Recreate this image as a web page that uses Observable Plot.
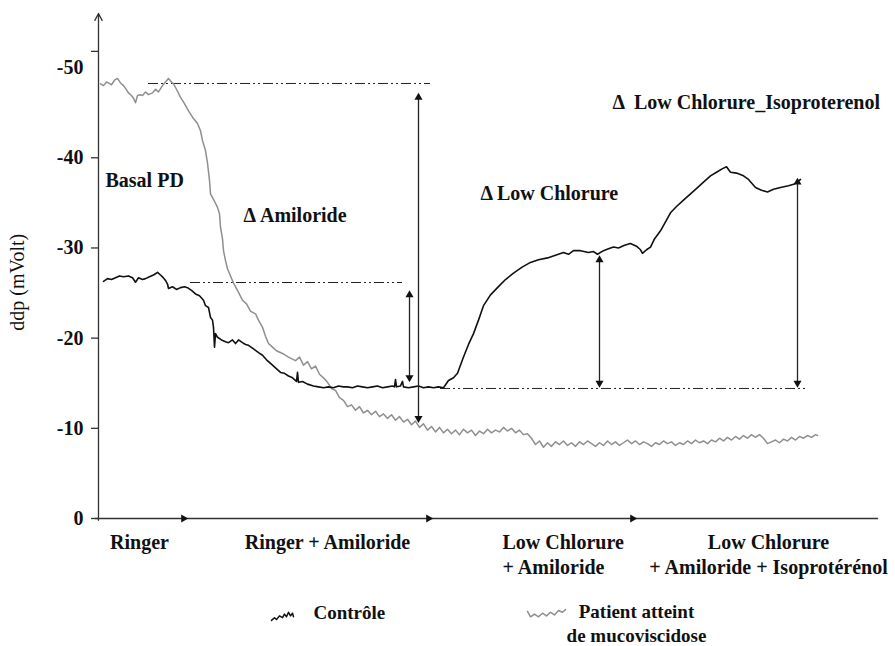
<!DOCTYPE html>
<html>
<head>
<meta charset="utf-8">
<script src="https://cdn.jsdelivr.net/npm/d3@7"></script>
<script src="https://cdn.jsdelivr.net/npm/@observablehq/plot@0.6"></script>
<style>
  html, body { margin: 0; padding: 0; background: #fff; }
  #chart svg { display: block; }
  #chart svg text { font-family: "Liberation Serif", "Times New Roman", serif; }
</style>
</head>
<body>
<div id="chart"></div>
<script>
// ---- Data (time in arbitrary units, ddp in mV) ----
const controle = [
  [5,-26.3],[9,-26.6],[13,-26.5],[17,-26.7],[21,-26.9],[25,-26.8],[30,-26.9],[34,-26.7],[37,-26.2],[40,-26.7],
  [44,-26.5],[47,-26.6],[51,-26.8],[55,-27.0],[59,-27.3],[62,-27.0],[64,-26.8],[67,-26.4],[69,-26.0],[70,-25.5],
  [74,-25.7],[78,-25.4],[82,-25.6],[86,-25.7],[89,-25.6],[93,-25.3],[97,-24.9],[101,-24.7],[105,-24.2],[107,-23.6],
  [110,-23.4],[112,-22.3],[114,-22.0],[115,-21.2],[116,-19.0],[117,-20.5],[119,-20.1],[123,-19.8],[127,-19.6],[130,-19.5],
  [134,-19.8],[137,-19.4],[140,-19.8],[144,-19.5],[147,-19.3],[150,-19.2],[155,-18.8],[160,-18.4],[164,-18.1],[168,-17.6],
  [172,-17.2],[177,-16.7],[182,-16.2],[186,-16.1],[190,-15.8],[194,-15.6],[198,-15.2],[199,-16.2],[200,-15.1],[204,-15.2],
  [209,-14.9],[215,-14.7],[220,-14.6],[225,-14.5],[230,-14.6],[235,-14.5],[240,-14.7],[245,-14.6],[249,-14.6],[254,-14.5],
  [259,-14.7],[264,-14.6],[269,-14.5],[274,-14.6],[279,-14.7],[284,-14.5],[289,-14.6],[294,-14.7],[296,-14.6],[297,-15.4],
  [298,-14.6],[302,-14.7],[304,-15.2],[305,-14.6],[310,-14.5],[315,-14.6],[320,-14.7],[325,-14.5],[330,-14.6],[335,-14.5],
  [340,-14.6],[345,-14.5],[350,-15.3],[355,-15.6],[359,-16.1],[365,-17.9],[370,-19.3],[375,-20.5],[380,-22.0],[385,-23.6],
  [392,-24.8],[399,-25.6],[407,-26.5],[415,-27.2],[424,-27.9],[432,-28.4],[440,-28.7],[449,-28.9],[457,-29.2],[465,-29.5],
  [470,-29.3],[475,-29.7],[482,-29.7],[490,-29.5],[495,-29.6],[499,-29.3],[505,-29.7],[510,-29.9],[515,-30.1],[520,-30.0],
  [526,-30.3],[532,-30.5],[538,-30.2],[542,-29.8],[544,-29.4],[548,-29.8],[552,-30.1],[556,-31.0],[562,-31.9],[567,-32.9],
  [572,-33.9],[578,-34.6],[585,-35.3],[592,-36.0],[599,-36.7],[605,-37.3],[612,-38.0],[618,-38.4],[624,-38.8],[628,-39.0],
  [632,-38.4],[638,-38.3],[645,-38.0],[650,-37.6],[657,-36.7],[663,-36.4],[669,-36.2],[675,-36.5],[682,-36.7],[690,-36.9],
  [696,-37.1],[699,-37.3],[702,-37.6]
];
const patient = [
  [2,-48.2],[5,-48.0],[8,-48.4],[10,-48.3],[13,-48.1],[16,-48.6],[19,-48.8],[22,-48.3],[25,-48.0],[27,-47.7],
  [30,-47.2],[33,-46.9],[35,-46.6],[37,-46.1],[39,-46.9],[42,-47.0],[44,-46.9],[47,-47.3],[50,-47.0],[54,-47.2],
  [57,-47.6],[60,-47.3],[64,-48.0],[67,-48.4],[70,-48.8],[73,-48.4],[75,-48.2],[78,-47.6],[82,-46.7],[86,-46.0],
  [90,-45.2],[94,-44.5],[99,-43.8],[102,-43.0],[104,-41.9],[107,-40.8],[109,-39.4],[111,-37.5],[112,-36.0],[115,-35.4],
  [119,-34.5],[121,-33.8],[122,-32.3],[124,-31.0],[125,-29.7],[127,-28.6],[129,-27.7],[132,-26.9],[135,-26.1],[139,-25.3],
  [144,-24.2],[148,-23.8],[152,-23.0],[157,-22.7],[160,-22.0],[164,-21.2],[167,-20.2],[170,-19.4],[174,-19.0],[178,-18.6],
  [184,-18.3],[190,-17.9],
  [197,-17.5],[201,-17.9],[205,-17.0],[209,-17.4],[213,-16.6],[217,-16.9],[221,-16.0],[225,-15.6],[229,-15.1],[233,-14.4],
  [237,-14.2],[241,-13.4],[245,-13.1],[249,-12.4],[253,-12.6],[257,-12.0],[261,-12.4],[265,-11.7],[269,-12.0],[273,-11.5],
  [277,-11.9],[281,-11.3],[285,-11.6],[289,-11.1],[293,-11.5],[297,-10.9],[301,-11.3],[305,-10.7],[309,-11.0],[313,-10.4],
  [317,-10.8],[321,-10.1],[325,-10.5],[329,-9.8],[333,-10.2],[337,-9.6],[341,-10.1],[345,-9.5],[349,-9.9],[353,-9.4],
  [357,-9.8],[361,-9.3],[365,-9.9],[369,-9.5],[373,-9.8],[377,-9.2],[381,-9.7],[385,-9.4],[389,-9.9],[393,-9.5],
  [397,-9.8],[401,-9.6],[405,-10.1],[409,-9.7],[413,-10.0],[417,-9.5],[421,-9.8],[425,-9.3],[429,-9.4],[433,-8.9],
  [437,-8.2],[441,-8.6],[445,-7.9],[449,-8.4],[453,-8.0],[457,-8.5],[461,-8.2],[465,-8.6],[469,-8.1],[473,-8.4],
  [477,-8.0],[481,-8.5],[485,-8.2],[489,-8.6],[493,-8.3],[497,-8.0],[501,-8.4],[505,-8.1],[509,-8.6],[513,-8.2],
  [517,-8.5],[521,-8.1],[525,-8.4],[529,-8.7],[533,-8.3],[537,-8.6],[541,-8.2],[545,-8.5],[549,-8.3],[553,-8.0],
  [557,-8.4],[561,-8.2],[565,-8.6],[569,-8.3],[573,-8.5],[577,-8.1],[581,-8.4],[585,-8.2],[589,-8.6],[593,-8.3],
  [597,-8.7],[601,-8.4],[605,-8.6],[609,-8.3],[613,-8.7],[617,-8.5],[621,-8.9],[625,-8.6],[629,-9.0],[633,-8.7],
  [637,-9.1],[641,-8.8],[645,-9.2],[649,-8.9],[653,-9.3],[657,-9.0],[661,-9.3],[665,-8.9],[669,-8.3],[673,-8.5],
  [677,-8.7],[681,-8.4],[685,-8.8],[689,-8.6],[693,-9.0],[697,-8.7],[701,-9.1],[705,-8.9],[709,-9.2],[713,-9.0],
  [717,-9.3],[719,-9.2]
];

// Axis ticks
const yTickLabels = [0, -10, -20, -30, -40, -50];
const yTickMarks = [0, -10, -20, -30, -40, -51.8];
const xArrowHeads = [85, 330, 534];

// Reference (dash-dot) levels: [level, from, to]
const refLines = [
  [-48.24, 50, 332],
  [-26.17, 92, 304],
  [-14.42, 342, 710]
];
// Double arrows: [t, top, bottom]
const deltaArrows = [
  [320, -47.2, -10.6],
  [311, -25.3, -15.1],
  [501, -29.2, -14.5],
  [699, -37.8, -14.5]
];

// Annotations
const annotations = [
  {t: 7,   v: -37.5, text: "Basal PD"},
  {t: 145, v: -33.6, text: "Δ Amiloride"},
  {t: 382, v: -36.0, text: "Δ Low Chlorure"},
  {t: 514, v: -46.1, text: "Δ  Low Chlorure_Isoproterenol"}
];
// Phase labels under the axis
const phaseLabelsCentered = [
  {t: 41,  v: 2.44, text: "Ringer"},
  {t: 229, v: 2.44, text: "Ringer + Amiloride"},
  {t: 670, v: 3.83, text: "Low Chlorure\n+ Amiloride + Isoprotérénol"}
];
const phaseLabelsLeft = [
  {t: 404, v: 3.83, text: "Low Chlorure\n+ Amiloride"}
];
// Legend
const legendLeft = [{t: 215, v: 10.42, text: "Contrôle"}];
const legendCentered = [{t: 538, v: 11.5, text: "Patient atteint\nde mucoviscidose"}];
const legendSampleControle = [[173,11.3],[176,11.0],[178,11.2],[181,10.8],[184,11.0],[186,10.6],[188,10.9],[190,10.4],[192,10.8],[194,10.5],[195,10.9]];
const legendSamplePatient = [[429,10.3],[432,10.9],[436,10.6],[440,10.9],[444,10.5],[448,10.8],[452,10.4],[456,10.7],[460,10.2],[464,10.4],[467,10.1]];

// ---- Layout ----
const W = 895, H = 646;
const mTop = 13, mBottom = 128, mLeft = 98, mRight = 17;
const yDomain = [0, -56];
const pxPerMv = (H - mBottom - mTop) / 56;
const headR = 3;
const tipOffset = (2 * Math.sqrt((Math.PI * headR * headR) / (Math.sqrt(3) * 3))) / pxPerMv;

const font = '"Liberation Serif", "Times New Roman", serif';
const ink = "#111";
const grey = "#8f8f8f";
const fs = 20;

const upHeads = deltaArrows.map(([t, top]) => ({t, v: top + tipOffset}));
const downHeads = deltaArrows.map(([t, , bottom]) => ({t, v: bottom - tipOffset}));

const bold = {fontSize: fs, fontWeight: "bold", fill: ink, fontFamily: font};

const chart = Plot.plot({
  width: W,
  height: H,
  marginTop: mTop,
  marginBottom: mBottom,
  marginLeft: mLeft,
  marginRight: mRight,
  style: {fontFamily: font, background: "#fff", overflow: "visible"},
  x: {domain: [0, 780], axis: null},
  y: {domain: yDomain, axis: null},
  marks: [
    // reference dash-dot lines
    Plot.ruleY(refLines, {y: d => d[0], x1: d => d[1], x2: d => d[2], stroke: "#222", strokeWidth: 1, strokeDasharray: "10,3,2,3,2,3"}),
    // data
    Plot.line(patient, {x: d => d[0], y: d => d[1], stroke: grey, strokeWidth: 1.5}),
    Plot.line(controle, {x: d => d[0], y: d => d[1], stroke: ink, strokeWidth: 1.6}),
    // double arrows
    Plot.ruleX(deltaArrows, {x: d => d[0], y1: d => d[1] + tipOffset, y2: d => d[2] - tipOffset, stroke: "#222", strokeWidth: 1.3}),
    Plot.dot(upHeads, {x: "t", y: "v", symbol: "triangle", r: headR, fill: "#111", stroke: null}),
    Plot.dot(downHeads, {x: "t", y: "v", symbol: "triangle", rotate: 180, r: headR, fill: "#111", stroke: null}),
    // y axis line with open arrow
    Plot.arrow([0], {x1: 0, x2: 0, y1: 0.2, y2: -56, stroke: "#333", strokeWidth: 1.3, headLength: 9, headAngle: 55}),
    Plot.ruleY(yTickMarks, {y: d => d, x1: -7, x2: 0, stroke: "#333", strokeWidth: 1.3}),
    Plot.axisY(yTickLabels, {anchor: "left", tickSize: 0, tickPadding: 15, tickFormat: d => String(d), ...bold, label: null}),
    Plot.text(["ddp (mVolt)"], {x: -81, y: -26.2, text: d => d, rotate: -90, fontSize: 20, fill: ink, fontFamily: font}),
    // x axis
    Plot.ruleY([0], {x1: -3, x2: 780, stroke: "#333", strokeWidth: 1.3}),
    Plot.dot(xArrowHeads, {x: d => d, y: 0, symbol: "triangle", rotate: 90, r: headR, fill: "#111", stroke: null}),
    // annotations
    Plot.text(annotations, {x: "t", y: "v", text: "text", textAnchor: "start", ...bold}),
    Plot.text(phaseLabelsCentered, {x: "t", y: "v", text: "text", textAnchor: "middle", lineHeight: 1.25, ...bold}),
    Plot.text(phaseLabelsLeft, {x: "t", y: "v", text: "text", textAnchor: "start", lineHeight: 1.25, ...bold}),
    // legend
    Plot.line(legendSampleControle, {x: d => d[0], y: d => d[1], stroke: ink, strokeWidth: 1.5}),
    Plot.line(legendSamplePatient, {x: d => d[0], y: d => d[1], stroke: grey, strokeWidth: 1.5}),
    Plot.text(legendLeft, {x: "t", y: "v", text: "text", textAnchor: "start", ...bold, fontSize: 19}),
    Plot.text(legendCentered, {x: "t", y: "v", text: "text", textAnchor: "middle", lineHeight: 1.26, ...bold, fontSize: 19})
  ]
});
document.getElementById("chart").append(chart);
</script>
</body>
</html>
